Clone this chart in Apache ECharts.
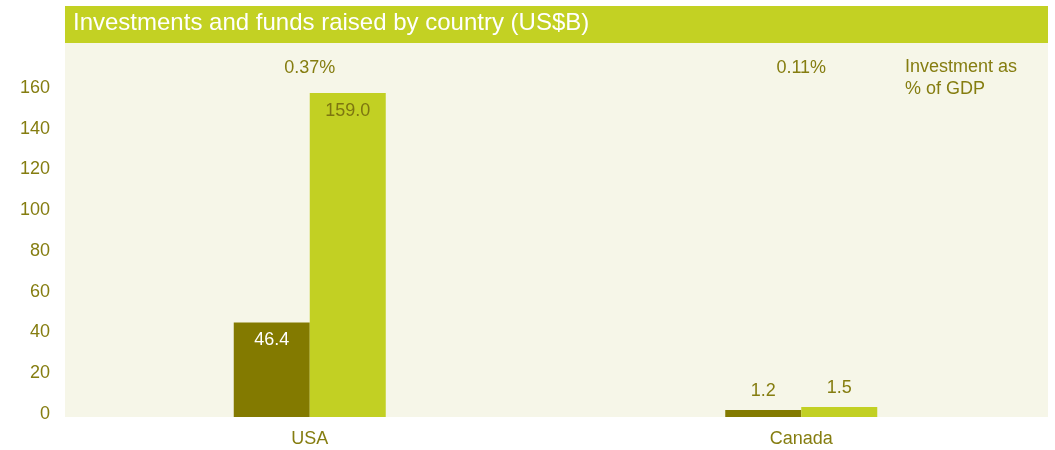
<!DOCTYPE html>
<html>
<head>
<meta charset="utf-8">
<script src="https://cdn.jsdelivr.net/npm/echarts@6/dist/echarts.min.js"></script>
<style>
  html, body { margin: 0; padding: 0; background: #fff; }
  #chart { width: 1055px; height: 450px; }
</style>
</head>
<body>
<div id="chart"></div>
<script>
  // data
  var countries = ['USA', 'Canada']
  var investment = [46.4, 1.2]
  var fundsRaised = [159.0, 1.5]
  var gdpShare = ['0.37%', '0.11%']
  var yTicks = [0, 20, 40, 60, 80, 100, 120, 140, 160]

  var olive = '#857d10'
  var font = '"Liberation Sans", Arial, Helvetica, sans-serif'

  var chart = echarts.init(document.getElementById('chart'))

  function barLabel(inside, color) {
    return inside ? {
      show: true, position: 'insideTop', distance: 9,
      color: color, fontSize: 18, fontFamily: font,
      formatter: function (p) { return p.value.toFixed(1) }
    } : {
      show: true, position: 'top', distance: 10,
      color: olive, fontSize: 18, fontFamily: font,
      formatter: function (p) { return p.value.toFixed(1) }
    }
  }

  var decor = [
    {
      type: 'rect', z: -10, silent: true,
      shape: { x: 65, y: 43, width: 983, height: 374 },
      style: { fill: '#f6f6e8' }
    },
    {
      type: 'rect', z: 1, silent: true,
      shape: { x: 65, y: 6, width: 983, height: 37 },
      style: { fill: '#c3d123' }
    },
    {
      type: 'text', z: 2, left: 73, top: 11,
      style: {
        text: 'Investments and funds raised by country (US$B)',
        fill: '#fff', fontSize: 24, fontFamily: font
      }
    },
    {
      type: 'text', z: 2, left: 905, top: 56,
      style: {
        text: 'Investment as\n% of GDP',
        fill: olive, fontSize: 18, lineHeight: 22, fontFamily: font
      }
    }
  ]

  chart.setOption({
    backgroundColor: '#fff',
    animation: false,
    graphic: decor,
    grid: {
      left: 64,
      right: 8,
      top: 91,
      bottom: 33
    },
    xAxis: {
      type: 'category',
      data: countries,
      axisLine: { show: false },
      axisTick: { show: false },
      axisLabel: {
        margin: 13,
        color: olive,
        fontSize: 18,
        fontFamily: font
      }
    },
    yAxis: {
      type: 'value',
      min: yTicks[0],
      max: yTicks[yTicks.length - 1],
      interval: 20,
      axisLine: { show: false },
      axisTick: { show: false },
      splitLine: { show: false },
      axisLabel: {
        margin: 14,
        verticalAlign: 'bottom',
        lineHeight: 6,
        color: olive,
        fontSize: 18,
        fontFamily: font
      }
    },
    series: [
      {
        name: 'Investment',
        type: 'bar',
        barWidth: 76,
        barGap: '0%',
        barMinHeight: 7,
        itemStyle: { color: '#837a00' },
        data: investment.map(function (v) {
          return { value: v, label: barLabel(v > 10, '#fff') }
        })
      },
      {
        name: 'Funds raised',
        type: 'bar',
        barWidth: 76,
        barMinHeight: 10,
        itemStyle: { color: '#c2d023' },
        data: fundsRaised.map(function (v) {
          return { value: v, label: barLabel(v > 10, '#7d7610') }
        })
      }
    ]
  })

  // share of GDP, above each country's pair of bars
  var shareTexts = countries.map(function (c, i) {
    var pt = chart.convertToPixel({ gridIndex: 0 }, [c, 0])
    return {
      type: 'text', z: 2, x: pt[0], y: 68,
      style: {
        text: gdpShare[i], fill: olive, fontSize: 18, fontFamily: font,
        align: 'center', verticalAlign: 'middle'
      }
    }
  })
  chart.setOption({ graphic: decor.concat(shareTexts) })
</script>
</body>
</html>
